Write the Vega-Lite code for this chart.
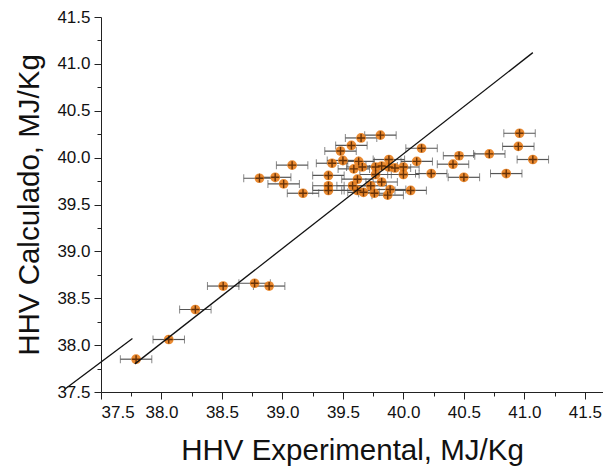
{
  "$schema": "https://vega.github.io/schema/vega-lite/v6.json",
  "width": 502,
  "height": 375,
  "autosize": {"type": "none"},
  "padding": {"left": 101, "top": 17, "right": 0, "bottom": 74},
  "background": "white",
  "view": {"stroke": null},
  "config": {
    "axis": {
      "labelFont": "Liberation Sans",
      "titleFont": "Liberation Sans",
      "labelFontSize": 17,
      "titleFontSize": 29.5,
      "titleFontWeight": "normal",
      "labelColor": "#111",
      "titleColor": "#111",
      "domainColor": "#222",
      "tickColor": "#222",
      "grid": false
    }
  },
  "datasets": {
    "pts": [
      {"x": 37.79, "y": 37.85, "e": 0.13},
      {"x": 38.06, "y": 38.06, "e": 0.13},
      {"x": 38.28, "y": 38.38, "e": 0.13},
      {"x": 38.51, "y": 38.63, "e": 0.13},
      {"x": 38.77, "y": 38.66, "e": 0.13},
      {"x": 38.89, "y": 38.63, "e": 0.13},
      {"x": 38.81, "y": 39.78, "e": 0.13},
      {"x": 38.94, "y": 39.79, "e": 0.13},
      {"x": 39.01, "y": 39.72, "e": 0.13},
      {"x": 39.08, "y": 39.92, "e": 0.13},
      {"x": 39.17, "y": 39.62, "e": 0.13},
      {"x": 39.38, "y": 39.81, "e": 0.13},
      {"x": 39.38, "y": 39.70, "e": 0.13},
      {"x": 39.38, "y": 39.65, "e": 0.13},
      {"x": 39.41, "y": 39.94, "e": 0.13},
      {"x": 39.48, "y": 40.07, "e": 0.13},
      {"x": 39.50, "y": 39.97, "e": 0.13},
      {"x": 39.57, "y": 40.13, "e": 0.13},
      {"x": 39.65, "y": 40.21, "e": 0.13},
      {"x": 39.81, "y": 40.24, "e": 0.13},
      {"x": 39.63, "y": 39.96, "e": 0.13},
      {"x": 39.59, "y": 39.88, "e": 0.13},
      {"x": 39.66, "y": 39.90, "e": 0.13},
      {"x": 39.62, "y": 39.77, "e": 0.13},
      {"x": 39.58, "y": 39.70, "e": 0.13},
      {"x": 39.62, "y": 39.65, "e": 0.13},
      {"x": 39.67, "y": 39.63, "e": 0.13},
      {"x": 39.73, "y": 39.70, "e": 0.13},
      {"x": 39.76, "y": 39.62, "e": 0.13},
      {"x": 39.77, "y": 39.82, "e": 0.13},
      {"x": 39.77, "y": 39.90, "e": 0.13},
      {"x": 39.82, "y": 39.91, "e": 0.13},
      {"x": 39.82, "y": 39.74, "e": 0.13},
      {"x": 39.87, "y": 39.60, "e": 0.13},
      {"x": 39.88, "y": 39.98, "e": 0.13},
      {"x": 39.88, "y": 39.90, "e": 0.13},
      {"x": 39.89, "y": 39.66, "e": 0.13},
      {"x": 39.93, "y": 39.89, "e": 0.13},
      {"x": 40.00, "y": 39.90, "e": 0.13},
      {"x": 40.00, "y": 39.82, "e": 0.13},
      {"x": 40.06, "y": 39.65, "e": 0.13},
      {"x": 40.11, "y": 39.96, "e": 0.13},
      {"x": 40.15, "y": 40.10, "e": 0.13},
      {"x": 40.23, "y": 39.83, "e": 0.13},
      {"x": 40.41, "y": 39.93, "e": 0.13},
      {"x": 40.46, "y": 40.02, "e": 0.13},
      {"x": 40.50, "y": 39.79, "e": 0.13},
      {"x": 40.71, "y": 40.04, "e": 0.13},
      {"x": 40.85, "y": 39.83, "e": 0.13},
      {"x": 40.95, "y": 40.12, "e": 0.13},
      {"x": 40.96, "y": 40.26, "e": 0.13},
      {"x": 41.07, "y": 39.98, "e": 0.13}
    ],
    "fit": [
      {"x": 37.78, "y": 37.80},
      {"x": 41.07, "y": 41.12}
    ],
    "seg": [
      {"x": 37.20, "y": 37.53},
      {"x": 37.76, "y": 38.07}
    ],
    "minor": [
      {"v": 37.75}, {"v": 38.25}, {"v": 38.75}, {"v": 39.25},
      {"v": 39.75}, {"v": 40.25}, {"v": 40.75}, {"v": 41.25}
    ]
  },
  "layer": [
    {
      "data": {"name": "pts"},
      "mark": {"type": "errorbar", "ticks": {"size": 8, "color": "#555"}, "rule": {"color": "#555", "strokeWidth": 1.2}},
      "encoding": {
        "x": {"field": "x", "type": "quantitative",
              "scale": {"domain": [37.5, 41.65], "nice": false, "zero": false},
              "axis": {"values": [37.5, 38, 38.5, 39, 39.5, 40, 40.5, 41, 41.5], "format": ".1f",
                       "tickSize": 7, "labelPadding": 5, "title": "HHV Experimental, MJ/Kg", "titlePadding": 16}},
        "xError": {"field": "e"},
        "y": {"field": "y", "type": "quantitative",
              "scale": {"domain": [37.5, 41.5], "nice": false, "zero": false},
              "axis": {"values": [37.5, 38, 38.5, 39, 39.5, 40, 40.5, 41, 41.5], "format": ".1f",
                       "tickSize": 7, "labelPadding": 4, "title": "HHV Calculado, MJ/Kg", "titlePadding": 12}}
      }
    },
    {
      "data": {"name": "pts"},
      "mark": {"type": "point", "shape": "circle", "filled": true, "size": 95, "color": "#e8801f", "opacity": 0.92},
      "encoding": {
        "x": {"field": "x", "type": "quantitative", "axis": null},
        "y": {"field": "y", "type": "quantitative", "axis": null}
      }
    },
    {
      "data": {"name": "pts"},
      "mark": {"type": "point", "shape": "M-1,0L1,0M0,-1L0,1", "filled": false, "size": 64, "stroke": "#5a2a05", "strokeWidth": 1.4, "opacity": 0.9},
      "encoding": {
        "x": {"field": "x", "type": "quantitative", "axis": null},
        "y": {"field": "y", "type": "quantitative", "axis": null}
      }
    },
    {
      "data": {"name": "fit"},
      "mark": {"type": "line", "color": "#111", "strokeWidth": 1.3},
      "encoding": {
        "x": {"field": "x", "type": "quantitative", "axis": null},
        "y": {"field": "y", "type": "quantitative", "axis": null}
      }
    },
    {
      "data": {"name": "seg"},
      "mark": {"type": "line", "color": "#111", "strokeWidth": 1.3, "clip": false},
      "encoding": {
        "x": {"field": "x", "type": "quantitative", "axis": null},
        "y": {"field": "y", "type": "quantitative", "axis": null}
      }
    },
    {
      "data": {"name": "minor"},
      "mark": {"type": "point", "opacity": 0},
      "encoding": {
        "x": {"field": "v", "type": "quantitative",
              "axis": {"orient": "bottom", "values": [37.75, 38.25, 38.75, 39.25, 39.75, 40.25, 40.75, 41.25],
                       "labels": false, "domain": false, "tickSize": 4, "title": null}},
        "y": {"field": "v", "type": "quantitative",
              "axis": {"orient": "left", "values": [37.75, 38.25, 38.75, 39.25, 39.75, 40.25, 40.75, 41.25],
                       "labels": false, "domain": false, "tickSize": 4, "title": null}}
      }
    }
  ],
  "resolve": {"axis": {"x": "independent", "y": "independent"}}
}
